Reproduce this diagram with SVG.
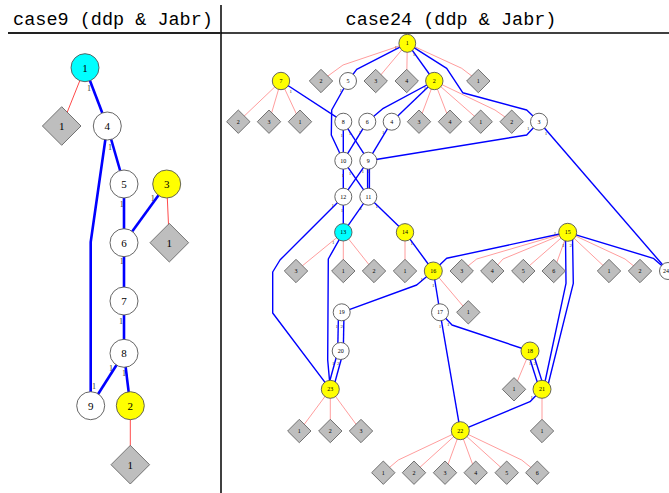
<svg xmlns="http://www.w3.org/2000/svg" width="669" height="493" viewBox="0 0 669 493">
<style>
.title{font-family:"Liberation Mono",monospace;font-size:18.5px;fill:#000;text-anchor:middle}
.bl{stroke:#0000ff;stroke-width:2.6;fill:none}
.rl{stroke:#ff4a4a;stroke-width:1;fill:none}
.b{stroke:#0000ff;stroke-width:1.4;fill:none;stroke-linejoin:round}
.r{stroke:#ff8484;stroke-width:0.8;fill:none}
.cw{fill:#fff;stroke:#555;stroke-width:0.9}
.cy{fill:#ffff00;stroke:#555;stroke-width:0.9}
.cc{fill:#00ffff;stroke:#555;stroke-width:0.9}
.dg{fill:#bebebe;stroke:#666;stroke-width:0.9}
.lt{font-family:"Liberation Serif",serif;font-size:11px;fill:#000;text-anchor:middle}
.st{font-family:"Liberation Serif",serif;font-size:6px;fill:#000;text-anchor:middle}
.tl{font-family:"Liberation Serif",serif;font-size:8px;fill:#333;text-anchor:middle}
.ts{font-family:"Liberation Serif",serif;font-size:5px;fill:#333;text-anchor:middle}
</style>
<defs>
<polygon id="dL" points="0,-19.3 19.3,0 0,19.3 -19.3,0"/>
<polygon id="dR" points="0,-11.7 11.7,0 0,11.7 -11.7,0"/>
</defs>
<rect width="669" height="493" fill="#fff"/>
<g id="frame">
<line x1="221" y1="5" x2="221" y2="493" stroke="#000" stroke-width="1.5"/>
<line x1="8" y1="33" x2="221" y2="33" stroke="#222" stroke-width="2.2"/>
<line x1="221" y1="33" x2="669" y2="33" stroke="#000" stroke-width="1.4"/>
<text class="title" x="113" y="25">case9 (ddp &amp; Jabr)</text>
<text class="title" x="451" y="25">case24 (ddp &amp; Jabr)</text>
</g>
<g id="connectors">
<!-- left panel -->
<line class="rl" x1="85" y1="67.7" x2="61.7" y2="126"/>
<line class="bl" x1="85" y1="67.7" x2="107.3" y2="126"/>
<line class="bl" x1="107.3" y1="126" x2="124" y2="184"/>
<polyline class="bl" points="107.3,126 90.7,242 90.7,405.7"/>
<line class="bl" x1="124" y1="184" x2="124" y2="242.7"/>
<line class="bl" x1="166.7" y1="184" x2="124" y2="242.7"/>
<line class="rl" x1="166.7" y1="184" x2="169.3" y2="242.7"/>
<line class="bl" x1="124" y1="242.7" x2="124" y2="301"/>
<line class="bl" x1="124" y1="301" x2="124" y2="353.3"/>
<line class="bl" x1="124" y1="353.3" x2="90.7" y2="405.7"/>
<line class="bl" x1="124" y1="353.3" x2="130.3" y2="405.7"/>
<line class="rl" x1="130.3" y1="405.7" x2="130.3" y2="464.7"/>
<!-- right panel red -->
<polyline class="r" points="407.3,43.3 343,65 321,81"/>
<line class="r" x1="407.3" y1="43.3" x2="375.7" y2="81"/>
<line class="r" x1="407.3" y1="43.3" x2="406.7" y2="81"/>
<polyline class="r" points="407.3,43.3 461.7,68.3 478.3,81"/>
<line class="r" x1="281" y1="81" x2="238.3" y2="121.7"/>
<line class="r" x1="281" y1="81" x2="269" y2="121.7"/>
<line class="r" x1="281" y1="81" x2="300" y2="121.7"/>
<line class="r" x1="434.3" y1="81" x2="419" y2="121.7"/>
<line class="r" x1="434.3" y1="81" x2="450" y2="121.7"/>
<line class="r" x1="434.3" y1="81" x2="480.7" y2="121.7"/>
<polyline class="r" points="434.3,81 495,110 511.7,121.7"/>
<line class="r" x1="343.3" y1="232.3" x2="296" y2="271"/>
<line class="r" x1="343.3" y1="232.3" x2="343.3" y2="271"/>
<line class="r" x1="343.3" y1="232.3" x2="374" y2="271"/>
<line class="r" x1="405" y1="232.3" x2="405" y2="271"/>
<polyline class="r" points="567.7,232.3 476.7,259 461.7,271"/>
<polyline class="r" points="567.7,232.3 503,259 492.3,271"/>
<line class="r" x1="567.7" y1="232.3" x2="523.3" y2="271"/>
<line class="r" x1="567.7" y1="232.3" x2="553.7" y2="271"/>
<line class="r" x1="567.7" y1="232.3" x2="609" y2="271"/>
<polyline class="r" points="567.7,232.3 625,259 640,271"/>
<line class="r" x1="433.3" y1="271" x2="468.3" y2="312.3"/>
<line class="r" x1="530" y1="351" x2="514" y2="389.3"/>
<line class="r" x1="542" y1="389.3" x2="542" y2="431"/>
<line class="r" x1="330.3" y1="389.3" x2="299.3" y2="431"/>
<line class="r" x1="330.3" y1="389.3" x2="330.3" y2="431"/>
<line class="r" x1="330.3" y1="389.3" x2="361" y2="431"/>
<polyline class="r" points="460.3,430.7 398.3,460 383.3,472.7"/>
<line class="r" x1="460.3" y1="430.7" x2="414" y2="472.7"/>
<line class="r" x1="460.3" y1="430.7" x2="445" y2="472.7"/>
<line class="r" x1="460.3" y1="430.7" x2="475.7" y2="472.7"/>
<line class="r" x1="460.3" y1="430.7" x2="506.7" y2="472.7"/>
<polyline class="r" points="460.3,430.7 521.7,460 537.3,472.7"/>
<!-- right panel blue -->
<polyline class="b" points="407.3,43.3 356.7,69.3 348,81"/>
<line class="b" x1="407.3" y1="43.3" x2="434.3" y2="81"/>
<polyline class="b" points="407.3,43.3 446.7,68.3 462.7,92.7 526.7,110 539,121.7"/>
<polyline class="b" points="434.3,81 383.3,108.3 367.3,121.7"/>
<line class="b" x1="434.3" y1="81" x2="391.7" y2="121.7"/>
<polyline class="b" points="348,81 331.7,110 331.3,135 343.3,160.7"/>
<line class="b" x1="281" y1="81" x2="343.3" y2="121.7"/>
<line class="b" x1="343.3" y1="121.7" x2="343.3" y2="160.7"/>
<line class="b" x1="343.3" y1="121.7" x2="368.3" y2="160.7"/>
<line class="b" x1="367.3" y1="121.7" x2="343.3" y2="160.7"/>
<line class="b" x1="391.7" y1="121.7" x2="368.3" y2="160.7"/>
<polyline class="b" points="368.3,160.7 526.7,135 539,121.7"/>
<line class="b" x1="539" y1="121.7" x2="668" y2="271"/>
<line class="b" x1="343.3" y1="160.7" x2="343.3" y2="196.7"/>
<line class="b" x1="343.3" y1="160.7" x2="368.3" y2="196.7"/>
<line class="b" x1="368.3" y1="160.7" x2="343.3" y2="196.7"/>
<line class="b" x1="367.6" y1="160.7" x2="367.6" y2="196.7"/>
<line class="b" x1="369.4" y1="160.7" x2="369.4" y2="196.7"/>
<line class="b" x1="343.3" y1="196.7" x2="343.3" y2="232.3"/>
<line class="b" x1="368.3" y1="196.7" x2="343.3" y2="232.3"/>
<line class="b" x1="368.3" y1="196.7" x2="405" y2="232.3"/>
<polyline class="b" points="343.3,196.7 280,260 272.7,272 272.7,313 330.3,389.3"/>
<polyline class="b" points="343.3,232.3 328.3,259 327.7,360 330.3,389.3"/>
<line class="b" x1="405" y1="232.3" x2="433.3" y2="271"/>
<polyline class="b" points="433.3,271 416.7,285 341.7,312.3"/>
<polyline class="b" points="433.3,271 446.7,258.3 567.7,232.3"/>
<polyline class="b" points="567.7,232.3 653.3,258.3 668,271"/>
<polyline class="b" points="565.5,236 566,283.3 544.3,385"/>
<polyline class="b" points="572.5,236 573.3,283.3 548,385"/>
<line class="b" x1="433.3" y1="271" x2="440" y2="312.3"/>
<polyline class="b" points="440,312.3 452,325 530,351"/>
<line class="b" x1="440" y1="312.3" x2="460.3" y2="430.7"/>
<line class="b" x1="527.5" y1="351" x2="539.5" y2="389.3"/>
<line class="b" x1="532.5" y1="351" x2="544.5" y2="389.3"/>
<polyline class="b" points="542,389.3 530,401.7 460.3,430.7"/>
<line class="b" x1="338.5" y1="312.3" x2="337.7" y2="351"/>
<line class="b" x1="344" y1="312.3" x2="343.3" y2="351"/>
<line class="b" x1="338" y1="351" x2="327.5" y2="389.3"/>
<line class="b" x1="343.5" y1="351" x2="333" y2="389.3"/>
<!-- edge tick labels -->
<g class="tl">
<text x="89" y="90.5">1</text><text x="110" y="149.5">1</text><text x="121.7" y="206.5">1</text>
<text x="152.7" y="200.5">1</text><text x="121.7" y="263.5">1</text><text x="121" y="323.5">1</text>
<text x="111" y="371">1</text><text x="124" y="376">1</text><text x="94" y="388.5">1</text>
</g>
<g class="ts">
<text x="395.7" y="48.5">1</text><text x="414" y="56">1</text><text x="290.7" y="93">1</text>
<text x="340.7" y="92">1</text><text x="425" y="90">1</text><text x="341.7" y="137">1</text>
<text x="350" y="135">1</text><text x="360" y="134">1</text><text x="383.3" y="134">1</text>
<text x="342.7" y="177">1</text><text x="350" y="174.5">1</text><text x="362.7" y="173">1</text>
<text x="369" y="173">1</text><text x="332.7" y="207">1</text><text x="342" y="212">1</text>
<text x="360.7" y="210">1</text><text x="376.7" y="208">1</text><text x="528.3" y="130">1</text>
<text x="546" y="134.5">1</text><text x="333.3" y="243.5">1</text><text x="411.7" y="245">1</text>
<text x="421.7" y="281">1</text><text x="433.3" y="286.5">1</text><text x="555" y="235">1</text>
<text x="563.3" y="247">1</text><text x="570.7" y="247">2</text><text x="336.7" y="327.5">1</text>
<text x="341.7" y="327.5">2</text><text x="333.3" y="364.5">1</text><text x="338.3" y="364.5">2</text>
<text x="440" y="327.5">1</text><text x="448.3" y="326">1</text><text x="530" y="364.5">1</text>
<text x="535" y="365">2</text><text x="531.7" y="399">1</text>
</g>
</g>
<!-- left nodes -->
<g id="L1"><circle class="cc" cx="85" cy="67.7" r="14"/><text class="lt" x="85" y="71.5">1</text></g>
<g id="Ld1"><use href="#dL" class="dg" x="61.7" y="126"/><text class="lt" x="61.7" y="129.8">1</text></g>
<g id="L4"><circle class="cw" cx="107.3" cy="126" r="14"/><text class="lt" x="107.3" y="129.8">4</text></g>
<g id="L5"><circle class="cw" cx="124" cy="184" r="14"/><text class="lt" x="124" y="187.8">5</text></g>
<g id="L3"><circle class="cy" cx="166.7" cy="184" r="14"/><text class="lt" x="166.7" y="187.8">3</text></g>
<g id="L6"><circle class="cw" cx="124" cy="242.7" r="14"/><text class="lt" x="124" y="246.5">6</text></g>
<g id="Ld3"><use href="#dL" class="dg" x="169.3" y="242.7"/><text class="lt" x="169.3" y="246.5">1</text></g>
<g id="L7"><circle class="cw" cx="124" cy="301" r="14"/><text class="lt" x="124" y="304.8">7</text></g>
<g id="L8"><circle class="cw" cx="124" cy="353.3" r="14"/><text class="lt" x="124" y="357.1">8</text></g>
<g id="L9"><circle class="cw" cx="90.7" cy="405.7" r="14"/><text class="lt" x="90.7" y="409.5">9</text></g>
<g id="L2"><circle class="cy" cx="130.3" cy="405.7" r="14"/><text class="lt" x="130.3" y="409.5">2</text></g>
<g id="Ld2"><use href="#dL" class="dg" x="130.3" y="464.7"/><text class="lt" x="130.3" y="468.5">1</text></g>
<!-- right nodes -->
<g id="R1"><ellipse class="cy" cx="407.3" cy="43.3" rx="8.4" ry="9"/><text class="st" x="407.3" y="45.3">1</text></g>
<g id="R7"><circle class="cy" cx="281" cy="81" r="8.7"/><text class="st" x="281" y="83">7</text></g>
<g id="R2"><circle class="cy" cx="434.3" cy="81" r="8.7"/><text class="st" x="434.3" y="83">2</text></g>
<g id="R5"><circle class="cw" cx="348" cy="81" r="8.5"/><text class="st" x="348" y="83">5</text></g>
<g id="R8"><circle class="cw" cx="343.3" cy="121.7" r="8.5"/><text class="st" x="343.3" y="123.7">8</text></g>
<g id="R6"><circle class="cw" cx="367.3" cy="121.7" r="8.5"/><text class="st" x="367.3" y="123.7">6</text></g>
<g id="R4"><circle class="cw" cx="391.7" cy="121.7" r="8.5"/><text class="st" x="391.7" y="123.7">4</text></g>
<g id="R3"><circle class="cw" cx="539" cy="121.7" r="8.5"/><text class="st" x="539" y="123.7">3</text></g>
<g id="R10"><circle class="cw" cx="343.3" cy="160.7" r="8.5"/><text class="st" x="343.3" y="162.7">10</text></g>
<g id="R9"><circle class="cw" cx="368.3" cy="160.7" r="8.5"/><text class="st" x="368.3" y="162.7">9</text></g>
<g id="R12"><circle class="cw" cx="343.3" cy="196.7" r="8.5"/><text class="st" x="343.3" y="198.7">12</text></g>
<g id="R11"><circle class="cw" cx="368.3" cy="196.7" r="8.5"/><text class="st" x="368.3" y="198.7">11</text></g>
<g id="R13"><circle class="cc" cx="343.3" cy="232.3" r="8.7"/><text class="st" x="343.3" y="234.3">13</text></g>
<g id="R14"><circle class="cy" cx="405" cy="232.3" r="8.7"/><text class="st" x="405" y="234.3">14</text></g>
<g id="R15"><circle class="cy" cx="567.7" cy="232.3" r="9"/><text class="st" x="567.7" y="234.3">15</text></g>
<g id="R16"><circle class="cy" cx="433.3" cy="271" r="9"/><text class="st" x="433.3" y="273">16</text></g>
<g id="R24"><circle class="cw" cx="668" cy="271" r="8.5"/><text class="st" x="666" y="273">24</text></g>
<g id="R19"><circle class="cw" cx="341.7" cy="312.3" r="8.5"/><text class="st" x="341.7" y="314.3">19</text></g>
<g id="R17"><circle class="cw" cx="440" cy="312.3" r="8.5"/><text class="st" x="440" y="314.3">17</text></g>
<g id="R20"><circle class="cw" cx="340.7" cy="351" r="8.5"/><text class="st" x="340.7" y="353">20</text></g>
<g id="R18"><circle class="cy" cx="530" cy="351" r="9"/><text class="st" x="530" y="353">18</text></g>
<g id="R23"><circle class="cy" cx="330.3" cy="389.3" r="9"/><text class="st" x="330.3" y="391.3">23</text></g>
<g id="R21"><circle class="cy" cx="542" cy="389.3" r="9"/><text class="st" x="542" y="391.3">21</text></g>
<g id="R22"><circle class="cy" cx="460.3" cy="430.7" r="9"/><text class="st" x="460.3" y="432.7">22</text></g>
<!-- right diamonds -->
<g id="D1_2"><use href="#dR" class="dg" x="321" y="81"/><text class="st" x="321" y="83">2</text></g>
<g id="D1_3"><use href="#dR" class="dg" x="375.7" y="81"/><text class="st" x="375.7" y="83">3</text></g>
<g id="D1_4"><use href="#dR" class="dg" x="406.7" y="81"/><text class="st" x="406.7" y="83">4</text></g>
<g id="D1_1"><use href="#dR" class="dg" x="478.3" y="81"/><text class="st" x="478.3" y="83">1</text></g>
<g id="D7_2"><use href="#dR" class="dg" x="238.3" y="121.7"/><text class="st" x="238.3" y="123.7">2</text></g>
<g id="D7_3"><use href="#dR" class="dg" x="269" y="121.7"/><text class="st" x="269" y="123.7">3</text></g>
<g id="D7_1"><use href="#dR" class="dg" x="300" y="121.7"/><text class="st" x="300" y="123.7">1</text></g>
<g id="D2_3"><use href="#dR" class="dg" x="419" y="121.7"/><text class="st" x="419" y="123.7">3</text></g>
<g id="D2_4"><use href="#dR" class="dg" x="450" y="121.7"/><text class="st" x="450" y="123.7">4</text></g>
<g id="D2_1"><use href="#dR" class="dg" x="480.7" y="121.7"/><text class="st" x="480.7" y="123.7">1</text></g>
<g id="D2_2"><use href="#dR" class="dg" x="511.7" y="121.7"/><text class="st" x="511.7" y="123.7">2</text></g>
<g id="D13_3"><use href="#dR" class="dg" x="296" y="271"/><text class="st" x="296" y="273">3</text></g>
<g id="D13_1"><use href="#dR" class="dg" x="343.3" y="271"/><text class="st" x="343.3" y="273">1</text></g>
<g id="D13_2"><use href="#dR" class="dg" x="374" y="271"/><text class="st" x="374" y="273">2</text></g>
<g id="D14_1"><use href="#dR" class="dg" x="405" y="271"/><text class="st" x="405" y="273">1</text></g>
<g id="D15_3"><use href="#dR" class="dg" x="461.7" y="271"/><text class="st" x="461.7" y="273">3</text></g>
<g id="D15_4"><use href="#dR" class="dg" x="492.3" y="271"/><text class="st" x="492.3" y="273">4</text></g>
<g id="D15_5"><use href="#dR" class="dg" x="523.3" y="271"/><text class="st" x="523.3" y="273">5</text></g>
<g id="D15_6"><use href="#dR" class="dg" x="553.7" y="271"/><text class="st" x="553.7" y="273">6</text></g>
<g id="D15_1"><use href="#dR" class="dg" x="609" y="271"/><text class="st" x="609" y="273">1</text></g>
<g id="D15_2"><use href="#dR" class="dg" x="640" y="271"/><text class="st" x="640" y="273">2</text></g>
<g id="D16_1"><use href="#dR" class="dg" x="468.3" y="312.3"/><text class="st" x="468.3" y="314.3">1</text></g>
<g id="D18_1"><use href="#dR" class="dg" x="514" y="389.3"/><text class="st" x="514" y="391.3">1</text></g>
<g id="D21_1"><use href="#dR" class="dg" x="542" y="431"/><text class="st" x="542" y="433">1</text></g>
<g id="D23_1"><use href="#dR" class="dg" x="299.3" y="431"/><text class="st" x="299.3" y="433">1</text></g>
<g id="D23_2"><use href="#dR" class="dg" x="330.3" y="431"/><text class="st" x="330.3" y="433">2</text></g>
<g id="D23_3"><use href="#dR" class="dg" x="361" y="431"/><text class="st" x="361" y="433">3</text></g>
<g id="D22_1"><use href="#dR" class="dg" x="383.3" y="472.7"/><text class="st" x="383.3" y="474.7">1</text></g>
<g id="D22_2"><use href="#dR" class="dg" x="414" y="472.7"/><text class="st" x="414" y="474.7">2</text></g>
<g id="D22_3"><use href="#dR" class="dg" x="445" y="472.7"/><text class="st" x="445" y="474.7">3</text></g>
<g id="D22_4"><use href="#dR" class="dg" x="475.7" y="472.7"/><text class="st" x="475.7" y="474.7">4</text></g>
<g id="D22_5"><use href="#dR" class="dg" x="506.7" y="472.7"/><text class="st" x="506.7" y="474.7">5</text></g>
<g id="D22_6"><use href="#dR" class="dg" x="537.3" y="472.7"/><text class="st" x="537.3" y="474.7">6</text></g>
</svg>
